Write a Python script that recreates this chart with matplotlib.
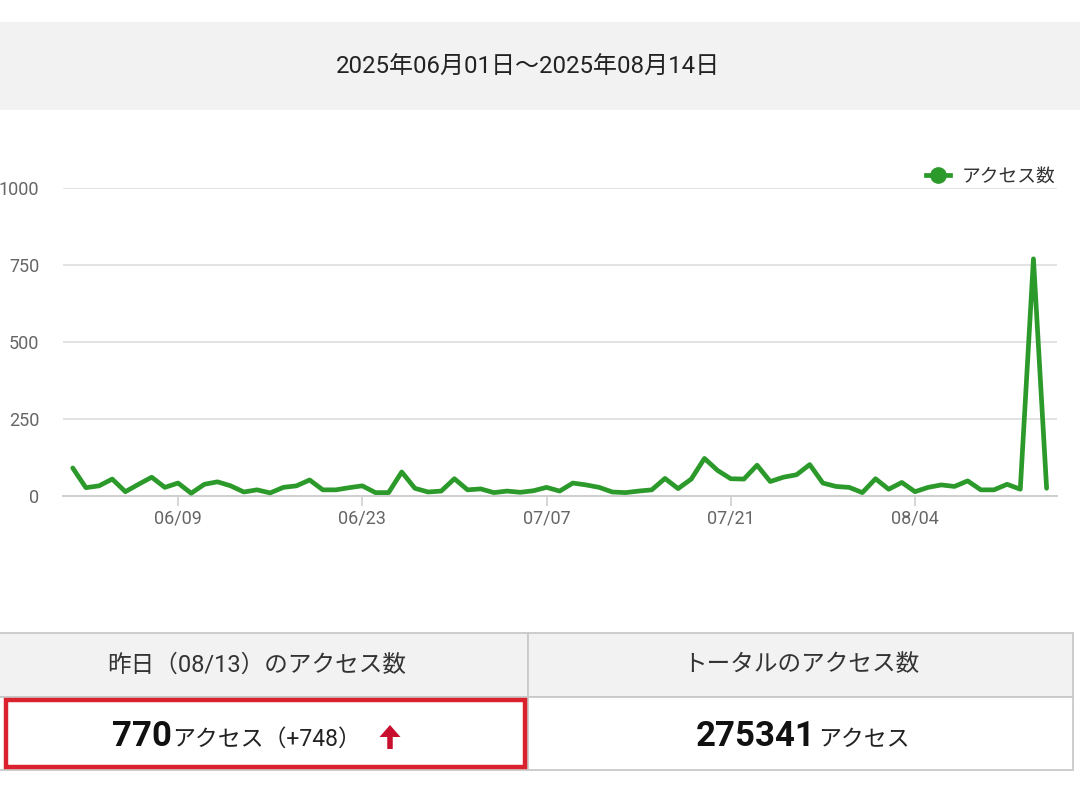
import numpy as np
import pandas as pd
import matplotlib
matplotlib.use('Agg')
import matplotlib.pyplot as plt
import matplotlib.dates as mdates
from matplotlib.patches import Rectangle, FancyArrow

plt.rcParams['font.family'] = ['Roboto', 'Noto Sans CJK JP', 'DejaVu Sans']

# data
period = '2025年06月01日～2025年08月14日'
series_name = 'アクセス数'
dates = pd.date_range('2025-06-01', '2025-08-14', freq='D')
access = [91, 27, 33, 55, 14, 38, 61, 28, 42, 9,
          38, 46, 33, 13, 20, 10, 28, 33, 52, 20,
          20, 27, 33, 11, 11, 78, 25, 13, 16, 56,
          20, 23, 11, 16, 12, 17, 28, 16, 42, 36,
          28, 13, 11, 16, 20, 57, 24, 55, 122, 83,
          56, 55, 100, 47, 61, 69, 102, 42, 31, 28,
          11, 56, 22, 44, 14, 28, 36, 31, 49, 20,
          20, 38, 22, 770, 25]
xtick_dates = ['2025-06-09', '2025-06-23', '2025-07-07', '2025-07-21', '2025-08-04']
yticks = [0, 250, 500, 750, 1000]
header_left = '昨日（08/13）のアクセス数'
header_right = 'トータルのアクセス数'
yesterday = '770'
diff_text = 'アクセス（+748）'
total = '275341'
unit = 'アクセス'

W, H = 1080, 793
fig = plt.figure(figsize=(W / 100, H / 100), dpi=100)
fig.patch.set_facecolor('white')

# overlay in pixel coords for banner and table
ov = fig.add_axes([0, 0, 1, 1])
ov.set_xlim(0, W)
ov.set_ylim(H, 0)
ov.axis('off')

# title banner
ov.add_patch(Rectangle((0, 22), W, 88, facecolor='#f2f2f2', edgecolor='none'))
ov.text(528, 66, period, ha='center', va='center', fontsize=17.3, color='#222222')

# table
grey = '#c9c9c9'
ov.add_patch(Rectangle((-2, 633), 528 + 2, 64, facecolor='#f2f2f2', edgecolor=grey, lw=1.3))
ov.add_patch(Rectangle((528, 633), 1073 - 528, 64, facecolor='#f2f2f2', edgecolor=grey, lw=1.3))
ov.add_patch(Rectangle((-2, 697), 528 + 2, 73, facecolor='white', edgecolor=grey, lw=1.3))
ov.add_patch(Rectangle((528, 697), 1073 - 528, 73, facecolor='white', edgecolor=grey, lw=1.3))
ov.add_patch(Rectangle((6, 700), 519, 67, facecolor='none', edgecolor='#d9222e', lw=3.2))
ov.text(257, 665, header_left, ha='center', va='center', fontsize=17, color='#333333')
ov.text(801, 665, header_right, ha='center', va='center', fontsize=17, color='#333333')

ov.text(112, 746, yesterday, ha='left', va='baseline', fontsize=25,
        fontweight='bold', color='#111111')
ov.text(172, 746, diff_text, ha='left', va='baseline', fontsize=16.5, color='#222222')
ov.add_patch(FancyArrow(390, 749, 0, -24, width=5.5, head_width=21, head_length=12,
                        length_includes_head=True, color='#c8102e', lw=0))
ov.text(696, 746, total, ha='left', va='baseline', fontsize=25,
        fontweight='bold', color='#111111')
ov.text(818, 746, unit, ha='left', va='baseline', fontsize=16.5, color='#222222')

# line chart
ax = fig.add_axes([63 / W, 1 - 496 / H, (1057 - 63) / W, (496 - 188) / H])
ax.patch.set_alpha(0)
green = '#2b9a2b'
ax.plot(dates, access, color=green, lw=3.4, solid_joinstyle='round',
        solid_capstyle='round', clip_on=False, label=series_name, zorder=3)

ax.set_ylim(0, 1000)
ax.set_yticks(yticks)
ax.set_xlim(dates[0] - pd.Timedelta(days=0.74), dates[-1] + pd.Timedelta(days=0.79))
ax.set_xticks(pd.to_datetime(xtick_dates))
ax.xaxis.set_major_formatter(mdates.DateFormatter('%m/%d'))

ax.grid(axis='y', color='#e3e3e3', lw=1.4)
ax.grid(axis='x', visible=False)
for s in ['top', 'right', 'left']:
    ax.spines[s].set_visible(False)
ax.spines['bottom'].set_color('#cfcfcf')
ax.spines['bottom'].set_linewidth(1.4)
ax.tick_params(axis='y', length=0, pad=17, labelsize=13, labelcolor='#666666')
ax.tick_params(axis='x', length=7, width=1.2, color='#cfcfcf', pad=3,
               labelsize=13, labelcolor='#666666')

# legend with marker
handles = [plt.Line2D([], [], color=green, lw=3.4, marker='o', markersize=11)]
fig.legend(handles, [series_name], loc='center right',
           bbox_to_anchor=(1055 / W, 1 - 177 / H), bbox_transform=fig.transFigure,
           frameon=False, fontsize=13.5, handlelength=1.3, handletextpad=0.6,
           borderpad=0, borderaxespad=0, labelcolor='#333333')

fig.savefig('out.png', dpi=100)
